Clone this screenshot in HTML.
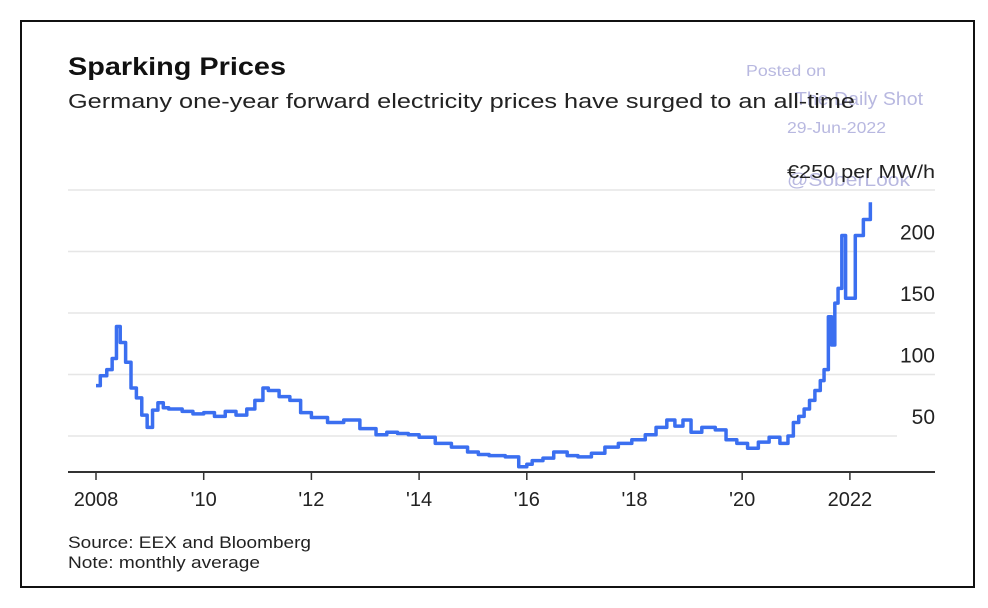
<!DOCTYPE html>
<html><head><meta charset="utf-8"><style>
body{margin:0;background:#fff;width:988px;height:608px;overflow:hidden;font-family:"Liberation Sans",sans-serif}
#frame{position:absolute;left:20px;top:20px;width:955px;height:568px;border:2px solid #111;box-sizing:border-box}
</style></head><body>
<div id="frame"></div>
<svg width="988" height="608" style="position:absolute;left:0;top:0">
<text x="68" y="75" font-size="25" font-weight="bold" fill="#111" textLength="218" lengthAdjust="spacingAndGlyphs">Sparking Prices</text>
<g fill="#b8b8e0" font-size="16">
<text x="746" y="76" textLength="80" lengthAdjust="spacingAndGlyphs">Posted on</text><text x="795" y="105" font-size="18" textLength="128" lengthAdjust="spacingAndGlyphs">The Daily Shot</text><text x="787" y="133" textLength="99" lengthAdjust="spacingAndGlyphs">29-Jun-2022</text><text x="787" y="186" font-size="18" textLength="123" lengthAdjust="spacingAndGlyphs">@SoberLook</text></g>
<text x="68" y="108" font-size="20" fill="#222" textLength="787" lengthAdjust="spacingAndGlyphs">Germany one-year forward electricity prices have surged to an all-time</text>
<text x="935" y="178" font-size="18" text-anchor="end" fill="#222" textLength="148" lengthAdjust="spacingAndGlyphs">€250 per MW/h</text>
<g id="grid"></g><g id="ylab"></g><g id="xax"></g><g id="series"></g>
<text x="68" y="548" font-size="17" fill="#222" textLength="243" lengthAdjust="spacingAndGlyphs">Source: EEX and Bloomberg</text>
<text x="68" y="568" font-size="17" fill="#222" textLength="192" lengthAdjust="spacingAndGlyphs">Note: monthly average</text>
</svg>
<script>
const years=[2008.0,2008.08,2008.2,2008.3,2008.38,2008.45,2008.55,2008.65,2008.75,2008.85,2008.95,2009.05,2009.15,2009.25,2009.35,2009.6,2009.8,2010.0,2010.2,2010.4,2010.6,2010.8,2010.95,2011.1,2011.2,2011.4,2011.6,2011.8,2012.0,2012.3,2012.6,2012.9,2013.2,2013.4,2013.6,2013.8,2014.0,2014.3,2014.6,2014.9,2015.1,2015.3,2015.6,2015.85,2016.0,2016.1,2016.3,2016.5,2016.75,2016.95,2017.2,2017.45,2017.7,2017.95,2018.2,2018.4,2018.6,2018.75,2018.9,2019.05,2019.25,2019.5,2019.7,2019.9,2020.1,2020.3,2020.5,2020.7,2020.85,2020.95,2021.05,2021.15,2021.25,2021.35,2021.45,2021.52,2021.6,2021.66,2021.72,2021.78,2021.85,2021.92,2022.1,2022.25,2022.38];
const prices=[91,99,104,113,139,126,110,89,81,67,57,71,77,73,72,70,68,69,66,70,67,72,79,89,87,82,79,69,65,61,63,56,51,53,52,51,49,44,41,37,35,34,33,25,27,30,32,37,34,33,36,41,44,47,51,57,63,58,63,53,57,55,47,44,40,45,49,44,50,61,66,72,79,87,95,104,147,124,158,170,213,162,213,226,240];
const yTicks=[50,100,150,200,250];
const xTicks=[2008,2010,2012,2014,2016,2018,2020,2022];
const xLabels=["2008","'10","'12","'14","'16","'18","'20","2022"];
const X=v=>96+(v-2008)*53.85, Y=v=>436-(v-50)*1.23;
const NS="http://www.w3.org/2000/svg";
function mk(t,a,p){const e=document.createElementNS(NS,t);for(const k in a)e.setAttribute(k,a[k]);p.appendChild(e);return e;}
const g=document.getElementById('grid'),yl=document.getElementById('ylab'),xa=document.getElementById('xax'),s=document.getElementById('series');
yTicks.forEach(t=>{const l=mk('line',{x1:68,x2:t==50?897:935,y1:Y(t),y2:Y(t),stroke:'#e6e6e6','stroke-width':1.5},g);


if(t<250){const tx=mk('text',{x:935,y:Y(t)-12,'font-size':21,'text-anchor':'end',fill:'#222'},yl);tx.textContent=t;

}});
const ax=mk('line',{x1:68,x2:935,y1:472,y2:472,stroke:'#333','stroke-width':2},xa);


xTicks.forEach((t,i)=>{const tk=mk('line',{x1:X(t),x2:X(t),y1:472,y2:480,stroke:'#333','stroke-width':1.5},xa);


const tx=mk('text',{x:X(t),y:506,'font-size':20,'text-anchor':'middle',fill:'#222'},xa);tx.textContent=xLabels[i];

});
let d='M'+X(years[0])+' '+Y(prices[0]);
for(let i=1;i<years.length;i++){d+=' H'+X(years[i])+' V'+Y(prices[i]);}
const p=mk('path',{d:d,fill:'none',stroke:'#3b6ff0','stroke-width':3.5,'stroke-linejoin':'round'},s);


</script>
</body></html>
